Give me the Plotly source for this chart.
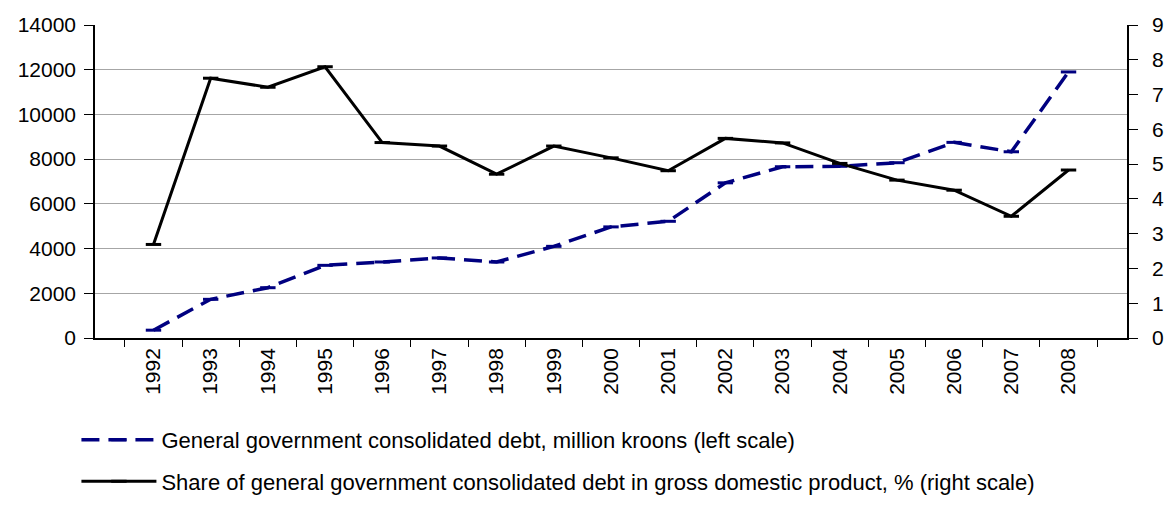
import plotly.graph_objects as go

years = [str(y) for y in range(1992, 2009)]
debt_million_kroons = [350, 1730, 2250, 3250, 3400, 3580, 3400, 4100, 4970, 5220,
                       6940, 7660, 7680, 7840, 8750, 8330, 11900]
debt_share_gdp = [2.69, 7.47, 7.21, 7.80, 5.62, 5.52, 4.71, 5.52, 5.18, 4.81,
                  5.74, 5.61, 5.02, 4.54, 4.25, 3.50, 4.83]

name_debt = "General government consolidated debt, million kroons (left scale)"
name_share = "Share of general government consolidated debt in gross domestic product, % (right scale)"

FONT = "Liberation Sans, Arial, sans-serif"
FS = 21

fig = go.Figure()
fig.add_trace(go.Scatter(
    x=years, y=debt_million_kroons, name=name_debt, yaxis="y",
    mode="lines+markers", legendgroup="a",
    line=dict(color="#000080", width=3.5, dash="18px,9px"),
    marker=dict(symbol="line-ew", size=11, line=dict(color="#000080", width=3)),
))
fig.add_trace(go.Scatter(
    x=years, y=debt_share_gdp, name=name_share, yaxis="y2",
    mode="lines+markers", legendgroup="b",
    line=dict(color="black", width=3),
    marker=dict(symbol="line-ew", size=11, line=dict(color="black", width=3)),
))

fig.update_layout(
    width=1173, height=519,
    margin=dict(l=95, r=46, t=25, b=181, autoexpand=False),
    paper_bgcolor="white", plot_bgcolor="white",
    font=dict(family=FONT, size=FS, color="black"),
    showlegend=True,
    legend=dict(
        orientation="v", x=-0.018, xanchor="left",
        yref="container", y=0.193, yanchor="top",
        font=dict(family=FONT, size=22, color="black"),
        tracegroupgap=10, itemwidth=75, bgcolor="rgba(0,0,0,0)",
    ),
    xaxis=dict(
        type="category", tickangle=-90, showgrid=False, automargin=False,
        showline=True, linecolor="black", linewidth=1.5,
        ticks="outside", tickson="boundaries", ticklen=7, tickcolor="black",
        tickfont=dict(family=FONT, size=FS),
    ),
    yaxis=dict(
        range=[0, 14000], dtick=2000, tickformat="d", automargin=False,
        showgrid=True, gridcolor="#a6a6a6", gridwidth=1,
        showline=True, linecolor="black", linewidth=1.5, zeroline=False,
        ticks="outside", ticklen=9, tickcolor="black", ticklabelstandoff=4,
        tickfont=dict(family=FONT, size=FS),
    ),
    yaxis2=dict(
        range=[0, 9], dtick=1, overlaying="y", side="right", showgrid=False,
        automargin=False,
        showline=True, linecolor="black", linewidth=1.5, zeroline=False,
        ticks="outside", ticklen=9, tickcolor="black", ticklabelstandoff=10,
        tickfont=dict(family=FONT, size=FS),
    ),
)

fig.write_html("out.html")
